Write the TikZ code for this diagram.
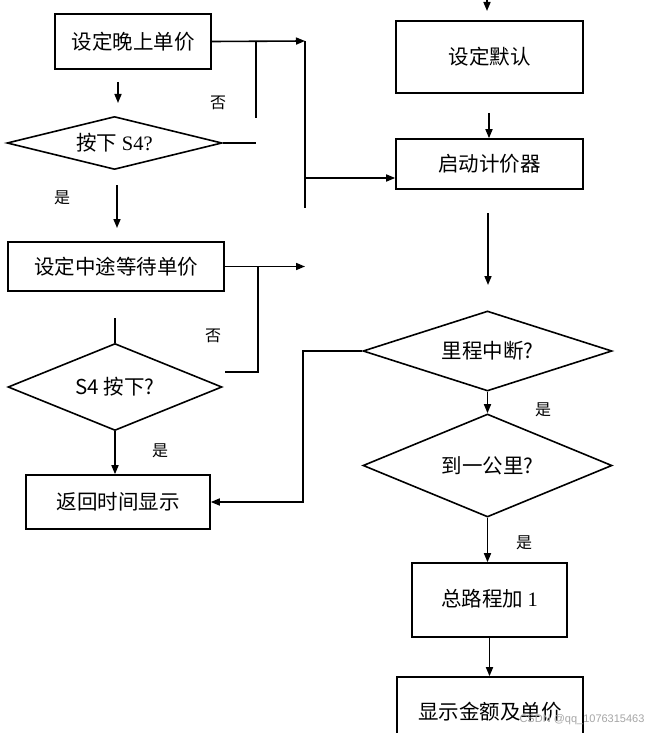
\documentclass[tikz,border=0pt]{standalone}
\usepackage{fontspec}
\setmainfont{Noto Sans CJK SC}
\newfontfamily\serifnum{Liberation Serif}
\newfontfamily\wmfont{Liberation Sans}
\usetikzlibrary{shapes.geometric,arrows.meta}
\begin{document}
\begin{tikzpicture}[x=1pt,y=-1pt,
  ln/.style={line width=1.6pt},
  arr/.style={line width=1.6pt,-{Triangle[length=9pt,width=7pt]}},
  box/.style={draw,line width=1.6pt,inner sep=0pt,font=\fontsize{20.5}{24}\selectfont},
  dia/.style={draw,diamond,line width=1.6pt,inner sep=0pt,font=\fontsize{20.5}{24}\selectfont},
  lab/.style={font=\fontsize{16}{18}\selectfont,inner sep=0pt}]
\useasboundingbox[fill=white] (0,0) rectangle (668,733);
% left column
\node[box,minimum width=156pt,minimum height=55pt] (b1) at (133,41.5) {设定晚上单价};
\node[dia,aspect=4,minimum width=215pt,minimum height=53pt] (d1) at (114.5,143) {按下 {\serifnum S4?}};
\node[box,minimum width=216pt,minimum height=49pt] (b2) at (116,266.5) {设定中途等待单价};
\node[dia,aspect=2.4,minimum width=214pt,minimum height=87pt] (d2) at (115,387) {S4 按下?};
\node[box,minimum width=184pt,minimum height=54pt] (b3) at (118,502) {返回时间显示};
% right column
\node[box,minimum width=187pt,minimum height=72pt] (r1) at (489.5,57) {设定默认};
\node[box,minimum width=187pt,minimum height=50pt] (r2) at (489.5,164) {\raisebox{-7pt}{启动计价器}};
\node[dia,aspect=3.1,minimum width=249pt,minimum height=80pt] (d3) at (487.5,351) {里程中断?};
\node[dia,aspect=2.4,minimum width=249pt,minimum height=103pt] (d4) at (487.5,465.5) {到一公里?};
\node[box,minimum width=155pt,minimum height=74pt] (r3) at (489.5,600) {\raisebox{4pt}{总路程加 {\serifnum 1}}};
\node[box,minimum width=186pt,minimum height=70pt] (r4) at (490,712) {\raisebox{2pt}{显示金额及单价}};
% coordinates
\coordinate (t0) at (487,0);
\coordinate (t1) at (487,11);
\coordinate (j1) at (305,41);
\coordinate (j1b) at (305,208);
\coordinate (v1) at (256,41);
\coordinate (v1b) at (256,118);
\coordinate (h1) at (256,143);
\coordinate (c5) at (305,178);
\coordinate (a1s) at (118,82);
\coordinate (a1e) at (118,103);
\coordinate (a2s) at (117,185);
\coordinate (a2e) at (117,228);
\coordinate (c7) at (305,266.5);
\coordinate (v2) at (258,266.5);
\coordinate (v2b) at (258,372);
\coordinate (h2) at (225,372);
\coordinate (s2) at (115,318);
\coordinate (k1) at (303,351);
\coordinate (k2) at (303,502);
\coordinate (m1) at (489,113);
\coordinate (m2s) at (488,213);
\coordinate (m2e) at (488,285);
% connectors
\draw[arr] (t0) -- (t1);
\draw[arr] (b1.east) -- (j1);
\draw[ln] (v1) -- (v1b);
\draw[ln] (d1.east) -- (h1);
\draw[ln] (j1) -- (j1b);
\draw[arr] (c5) -- (c5 -| r2.west);
\draw[arr] (a1s) -- (a1e);
\draw[arr] (a2s) -- (a2e);
\draw[arr] (b2.east) -- (c7);
\draw[ln] (v2) -- (v2b) -- (h2);
\draw[ln] (s2) -- (d2.north);
\draw[arr] (d2.south) -- (d2.south |- b3.north);
\draw[arr] (d3.west) -- (k1) -- (k2) -- (b3.east);
\draw[arr] (m1) -- (m1 |- r2.north);
\draw[arr] (m2s) -- (m2e);
\draw[arr] (d3.south) -- (d4.north);
\draw[arr] (d4.south) -- (d4.south |- r3.north);
\draw[arr] (r3.south) -- (r3.south |- r4.north);
% labels
\node[lab] (l1) at (218,103) {否};
\node[lab] (l2) at (62,198) {是};
\node[lab] (l3) at (213,336) {否};
\node[lab] (l4) at (160,451) {是};
\node[lab] (l5) at (543,410) {是};
\node[lab] (l6) at (524,543) {是};
\node[font=\wmfont\fontsize{11}{13}\selectfont,text=black!35,inner sep=0pt] (wm) at (582,720) {CSDN @qq\_1076315463};
\end{tikzpicture}
\end{document}
